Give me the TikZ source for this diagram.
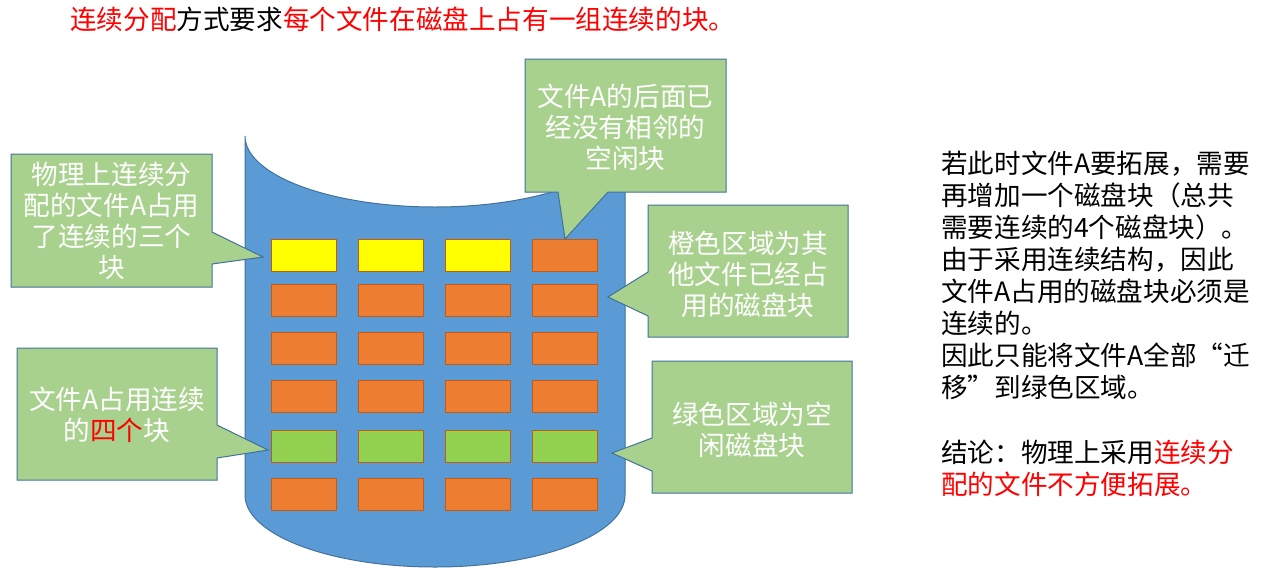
\documentclass[tikz,border=0pt]{standalone}
\usepackage{fontspec}
\newfontfamily\cjk{Noto Sans CJK SC}
\definecolor{cylblue}{HTML}{5B9BD5}
\definecolor{cylline}{HTML}{41719C}
\definecolor{callfill}{HTML}{A9D18E}
\definecolor{blkorange}{HTML}{ED7D31}
\definecolor{blkline}{HTML}{C55A11}
\definecolor{blkgreen}{HTML}{92D050}
\definecolor{blkyellow}{HTML}{FFFF00}
\definecolor{txtred}{HTML}{FF0000}
\tikzset{
  callout/.style={fill=callfill, draw=cylline, line width=1pt, line join=miter},
  ctext/.style={text=white, font=\cjk\fontsize{26.6}{31}\selectfont, align=center, inner sep=0pt},
  blk/.style={draw=blkline, line width=1pt, minimum width=65pt, minimum height=32pt, inner sep=0pt, anchor=north west},
  rtext/.style={font=\cjk\fontsize{26.6}{32}\selectfont, anchor=base west, inner sep=0pt},
}
\begin{document}
\begin{tikzpicture}[x=1pt,y=-1pt]
\useasboundingbox (0,0) rectangle (1263,576);
% header
\node[rtext] (title) at (70,29.5) {\textcolor{txtred}{连续分配}方式要求\textcolor{txtred}{每个文件在磁盘上占有一组连续的块。}};
% cylinder
\path[fill=cylblue, draw=cylline, line width=1pt] (245,136) -- (245,495)
  arc[start angle=180,end angle=360,x radius=190pt,y radius=72pt] -- (625,136)
  arc[start angle=0,end angle=-180,x radius=190pt,y radius=71pt] -- cycle;
% blocks
\node[blk, fill=blkyellow] (b11) at (271,239) {};
\node[blk, fill=blkyellow] (b12) at (358,239) {};
\node[blk, fill=blkyellow] (b13) at (445,239) {};
\node[blk, fill=blkorange] (b14) at (532,239) {};
\foreach \r/\yy in {2/284,3/332,4/380,6/478}{
  \node[blk, fill=blkorange] (b\r1) at (271,\yy) {};
  \node[blk, fill=blkorange] (b\r2) at (358,\yy) {};
  \node[blk, fill=blkorange] (b\r3) at (445,\yy) {};
  \node[blk, fill=blkorange] (b\r4) at (532,\yy) {};
}
\node[blk, fill=blkgreen] (b51) at (271,430) {};
\node[blk, fill=blkgreen] (b52) at (358,430) {};
\node[blk, fill=blkgreen] (b53) at (445,430) {};
\node[blk, fill=blkgreen] (b54) at (532,430) {};
% callouts
\path[callout] (11,154) -- (212,154) -- (212,232) -- (263,257) -- (212,264) -- (212,287) -- (11,287) -- cycle;
\node[ctext] (c1) at (111.5,221) {物理上连续分\\配的文件A占用\\了连续的三个\\块};
\path[callout] (525,59) -- (726,59) -- (726,192) -- (608,192) -- (565,239) -- (558,192) -- (525,192) -- cycle;
\node[ctext] (c2) at (625.5,127) {文件A的后面已\\经没有相邻的\\空闲块};
\path[callout] (648,205) -- (848,205) -- (848,337) -- (648,337) -- (648,316) -- (608,297) -- (648,272) -- cycle;
\node[ctext] (c3) at (748,274) {橙色区域为其\\他文件已经占\\用的磁盘块};
\path[callout] (17,348) -- (217,348) -- (217,425) -- (268,450) -- (217,458) -- (217,480) -- (17,480) -- cycle;
\node[ctext] (c4) at (117,415) {文件A占用连续\\的\textcolor{txtred}{四个}块};
\path[callout] (652,361) -- (852,361) -- (852,493) -- (652,493) -- (652,471) -- (612,453) -- (652,438) -- cycle;
\node[ctext] (c5) at (752,430) {绿色区域为空\\闲磁盘块};
% right text
\node[rtext] (r1) at (941,173) {若此时文件A要拓展，需要};
\node[rtext] (r2) at (941,205.1) {再增加一个磁盘块（总共};
\node[rtext] (r3) at (941,237.2) {需要连续的4个磁盘块）。};
\node[rtext] (r4) at (941,269.3) {由于采用连续结构，因此};
\node[rtext] (r5) at (941,301.4) {文件A占用的磁盘块必须是};
\node[rtext] (r6) at (941,333.5) {连续的。};
\node[rtext] (r7) at (941,365.6) {因此只能将文件A全部“迁};
\node[rtext] (r8) at (941,397.7) {移”到绿色区域。};
\node[rtext] (r9) at (941,462) {结论：物理上采用\textcolor{txtred}{连续分}};
\node[rtext] (r10) at (941,494) {\textcolor{txtred}{配的文件不方便拓展。}};
\end{tikzpicture}
\end{document}
